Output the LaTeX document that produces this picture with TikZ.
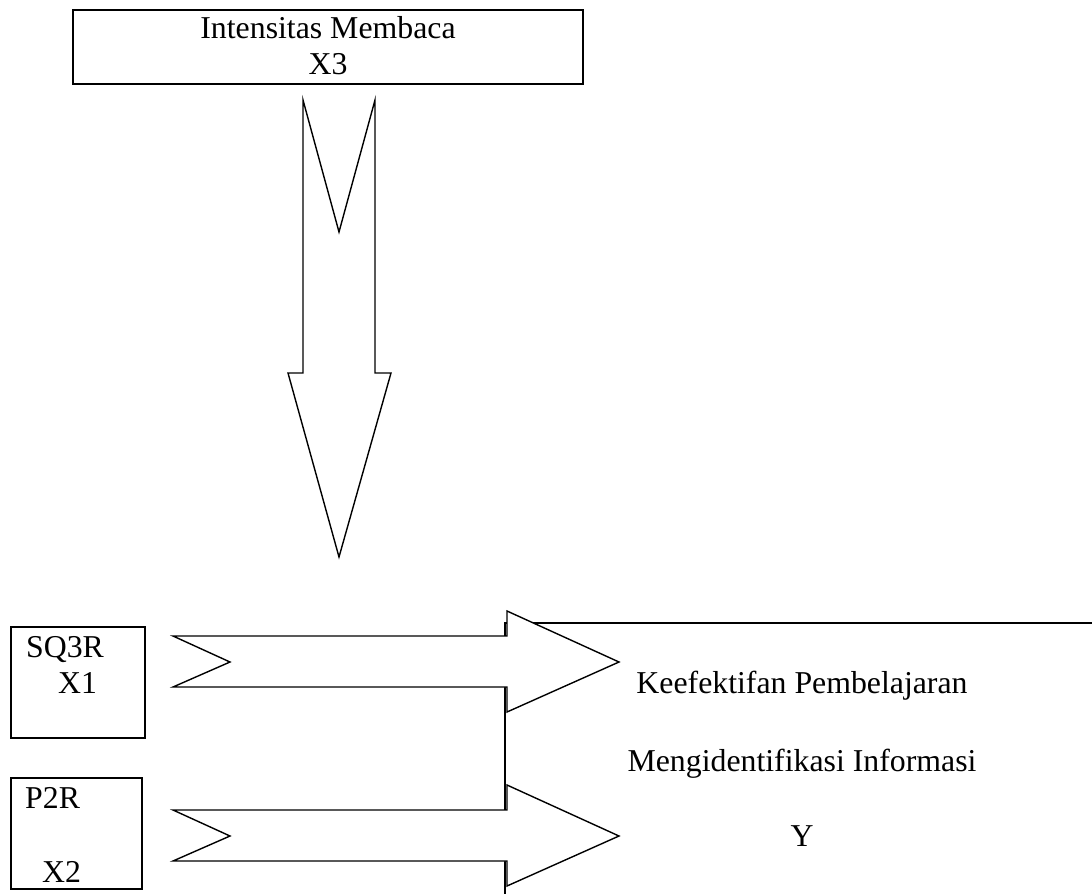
\documentclass[tikz,border=0pt]{standalone}
\usepackage{fontspec}
\setmainfont{Liberation Serif}
\tikzset{
  boxline/.style={line width=2.4pt},
  blockarrow/.style={line width=1.4pt, fill=white, line join=miter},
  lbl/.style={inner sep=0pt, font=\fontsize{31.8}{36}\selectfont}
}
\begin{document}
\begin{tikzpicture}[x=1pt, y=-1pt]
          \useasboundingbox (0,0) rectangle (1092,894);
          % boxes
          \draw [boxline] (73,10) rectangle (583,84);
          \draw [boxline] (11,627) rectangle (145,738);
          \draw [boxline] (11,778) rectangle (142,889);
          \draw [boxline] (1092,623) -- (505,623) -- (505,894);
          % block arrows
          \draw [blockarrow] (303,100) -- (339,232) -- (375,100) -- (375,373)
            -- (391,373) -- (339,557) -- (288,373) -- (303,373) -- cycle;
          \draw [blockarrow] (173,636) -- (507,636) -- (507,611) -- (619,662)
            -- (507,712) -- (507,687) -- (173,687) -- (230,662) -- cycle;
          \draw [blockarrow] (173,810) -- (507,810) -- (507,785) -- (619,836)
            -- (507,886) -- (507,861) -- (173,861) -- (230,836) -- cycle;
          % labels
          \node (intens) [lbl, anchor=base] at (328,38) {Intensitas Membaca};
          \node (xthree) [lbl, anchor=base] at (328,74) {X3};
          \node (sqr) [lbl, anchor=base west] at (26,657) {SQ3R};
          \node (xone) [lbl, anchor=base west] at (58,693) {X1};
          \node (ppr) [lbl, anchor=base west] at (25,808) {P2R};
          \node (xtwo) [lbl, anchor=base west] at (42,882) {X2};
          \node (keef) [lbl, anchor=base] at (802,693) {Keefektifan Pembelajaran};
          \node (ident) [lbl, anchor=base] at (802,771) {Mengidentifikasi Informasi};
          \node (yvar) [lbl, anchor=base] at (802,846) {Y};
        \end{tikzpicture}
\end{document}
